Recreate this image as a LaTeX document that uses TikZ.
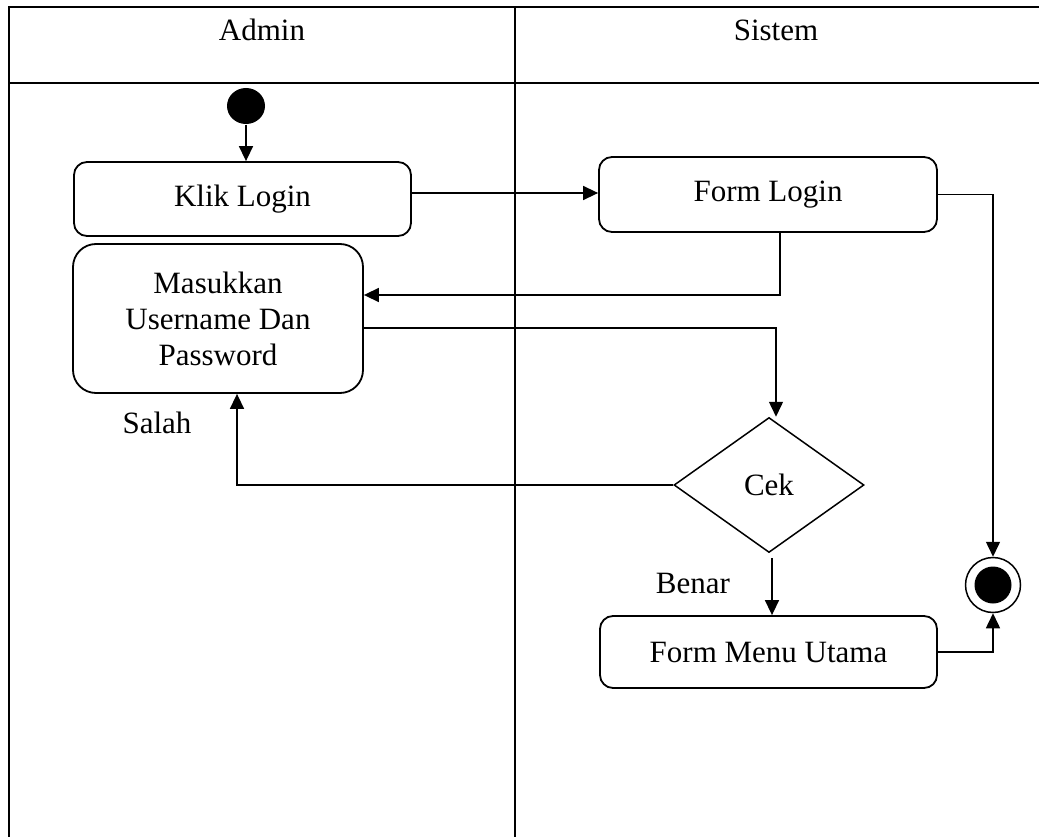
\documentclass[tikz,border=0pt]{standalone}
\usepackage{fontspec}
\setmainfont{Liberation Serif}
\usepackage{tikz}
\usetikzlibrary{arrows.meta, positioning, shapes.geometric}

\begin{document}
\begin{tikzpicture}[x=1pt, y=-1pt, line width=1.5pt, >={Triangle[length=15pt, width=14pt]},
    every node/.style={font=\fontsize{31pt}{36pt}\selectfont},
    activity/.style={rectangle, draw, rounded corners=13pt, line width=1.8pt, align=center}]
    \useasboundingbox (0,0) rectangle (1039,837);

    % swimlanes
    \draw[line width=2pt] (9,837) -- (9,7) -- (1039,7);
    \draw[line width=2pt] (9,83) -- (1039,83);
    \draw[line width=2pt] (515,7) -- (515,837);
    \node (admin) at (262,30) {Admin};
    \node (sistem) at (776,30) {Sistem};

    \node[ellipse, fill=black, inner sep=0pt, minimum width=38pt, minimum height=36pt] (start) at (246,106) {};
    \node[activity, minimum width=337pt, minimum height=74pt] (klik) at (242.5,199) {Klik Login};
    \node[activity, minimum width=338pt, minimum height=75pt] (formlogin) at (768,194.5) {Form Login};
    \node[activity, rounded corners=23pt, minimum width=290pt, minimum height=149pt] (masukkan) at (218,318.5) {Masukkan\\Username Dan\\Password};
    \node[diamond, draw, inner sep=0pt, minimum width=190pt, minimum height=135pt] (cek) at (769,485) {Cek};
    \node[activity, minimum width=337pt, minimum height=72pt] (menu) at (768.5,652) {Form Menu Utama};
    \node[circle, draw, inner sep=0pt, minimum size=55pt] (final) at (993,585) {};
    \node[circle, fill=black, inner sep=0pt, minimum size=37pt] (finaldot) at (final) {};

    \node (salah) at (157,423) {Salah};
    \node (benar) at (693,583) {Benar};

    \draw[->] (start) -- (start |- klik.north);
    \draw[->] (klik.east |- 0,193) -- (formlogin.west |- 0,193);
    \draw[->] ([xshift=12pt]formlogin.south) |- ([yshift=23.5pt]masukkan.east);
    \coordinate (cekin) at ([xshift=7pt]cek.north);
    \draw[->] ([yshift=-9.5pt]masukkan.east) -| (cekin);
    \draw[->] (cek.west) -| ([xshift=19pt]masukkan.south);
    \draw[->] ([xshift=3pt, yshift=-5pt]cek.south) -- ([xshift=3pt]cek.south |- menu.north);
    \draw[->] (formlogin.east) -| (final.north);
    \draw[->] (menu.east) -| (final.south);
\end{tikzpicture}
\end{document}
